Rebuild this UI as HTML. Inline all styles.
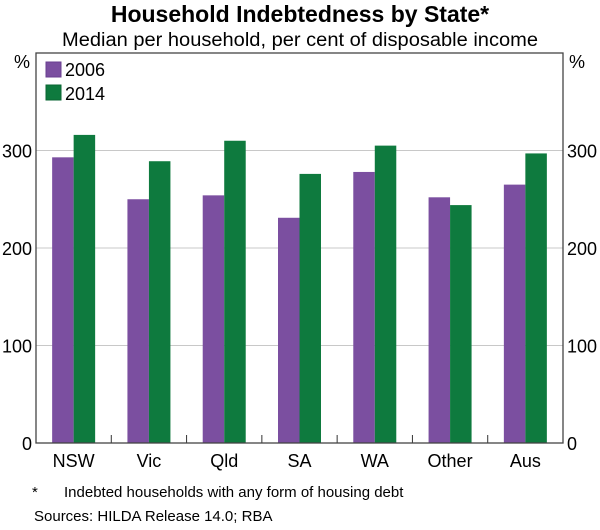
<!DOCTYPE html>
<html><head><meta charset="utf-8"><style>
body{margin:0;background:#fff;font-family:"Liberation Sans",Arial,sans-serif}
svg text{font-family:"Liberation Sans",Arial,sans-serif;fill:#000}
</style></head><body>
<svg id="c" width="600" height="525" xmlns="http://www.w3.org/2000/svg">
<text x="300" y="22" text-anchor="middle" font-size="23" font-weight="bold">Household Indebtedness by State*</text>
<text x="62" y="46" font-size="19" textLength="476" lengthAdjust="spacingAndGlyphs">Median per household, per cent of disposable income</text>
<g id="grid"></g><g id="bars"></g><g id="axes"></g>
<rect x="46" y="62" width="15" height="15" fill="#7b4fa0" stroke="#6a3f90"/>
<text x="65" y="76" font-size="18">2006</text>
<rect x="46" y="85" width="15" height="15" fill="#0e7a3e" stroke="#0a6633"/>
<text x="65" y="100" font-size="18">2014</text>
<text x="32" y="497" font-size="15">*</text>
<text x="64" y="497" font-size="15">Indebted households with any form of housing debt</text>
<text x="34" y="521" font-size="15">Sources:   HILDA Release 14.0; RBA</text>
</svg>
<script>
const categories=["NSW","Vic","Qld","SA","WA","Other","Aus"];
const s2006=[293,250,254,231,278,252,265];
const s2014=[316,289,310,276,305,244,297];
const yTicks=[0,100,200,300];
const L=36,R=563,T=53,B=443,YMAX=400;
const cw=(R-L)/categories.length,bw=21.5;
const y=v=>B-(v/YMAX)*(B-T);
const xc=i=>L+cw*(i+0.5);
const NS="http://www.w3.org/2000/svg";
function mk(tag,attrs,parent,txt){const e=document.createElementNS(NS,tag);for(const k in attrs)e.setAttribute(k,attrs[k]);if(txt!==undefined)e.textContent=txt;document.getElementById(parent).appendChild(e);return e;}
yTicks.forEach(t=>{
 if(t>0){const g=mk('line',{x1:L,x2:R,y1:y(t),y2:y(t),stroke:'#c8c8c8','stroke-width':1},'grid');
 
 }
 const a=mk('text',{x:L-4,y:y(t)+7,'text-anchor':'end','font-size':18},'axes',t);
 
 
 const b=mk('text',{x:R+4,y:y(t)+7,'font-size':18},'axes',t);
 
 
});
const p1=mk('text',{x:L-6,y:T+15,'text-anchor':'end','font-size':18},'axes','%');


const p2=mk('text',{x:R+6,y:T+15,'font-size':18},'axes','%');


categories.forEach((c,i)=>{
 const r1=mk('rect',{x:xc(i)-bw,y:y(s2006[i]),width:bw,height:B-y(s2006[i]),fill:'#7b4fa0'},'bars');
 
 
 const r2=mk('rect',{x:xc(i),y:y(s2014[i]),width:bw,height:B-y(s2014[i]),fill:'#0e7a3e'},'bars');
 
 
 const l=mk('text',{x:xc(i),y:B+24,'text-anchor':'middle','font-size':18},'axes',c);
 
 
 if(i>0){const tk=mk('line',{x1:L+cw*i,x2:L+cw*i,y1:B-8,y2:B,stroke:'#333'},'axes');
 
 }
});
const fr=mk('rect',{x:L,y:T,width:R-L,height:B-T,fill:'none',stroke:'#444','stroke-width':1.3},'axes');


</script>
</body></html>
